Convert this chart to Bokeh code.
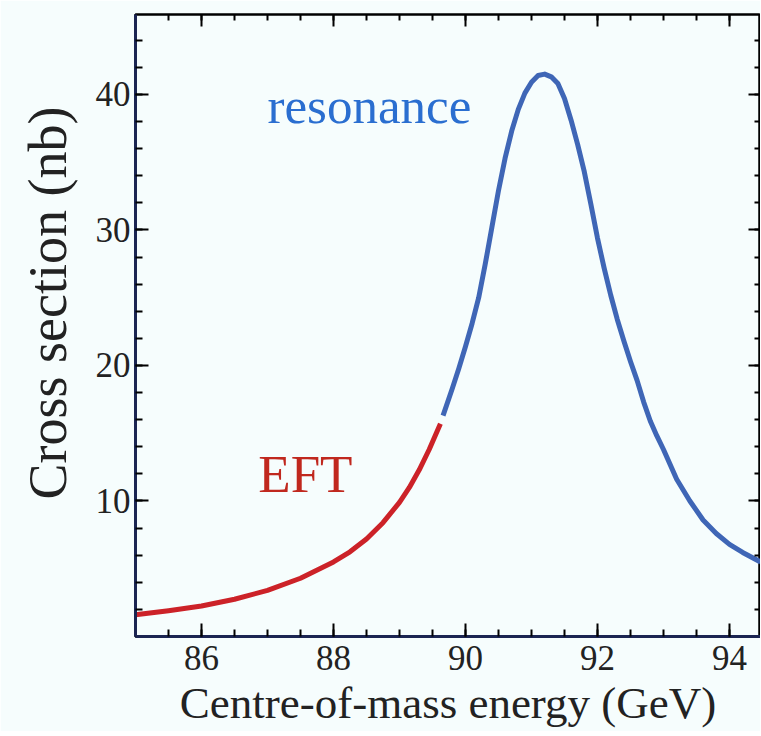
from bokeh.plotting import figure
from bokeh.models import FixedTicker, LinearAxis, Label, Range1d, Title
from bokeh.embed import file_html
from bokeh.resources import INLINE
import numpy as np

# ---- data ----
eft_energy = [85.0, 85.5, 86.0, 86.5, 87.0, 87.5, 88.0, 88.25, 88.5, 88.75,
              89.0, 89.15, 89.3, 89.45, 89.62]
eft_xsec = [1.6, 1.9, 2.25, 2.75, 3.4, 4.3, 5.5, 6.25, 7.2, 8.4,
            9.9, 11.0, 12.3, 13.8, 15.7]

res_energy = [89.66, 89.8, 89.9, 90.0, 90.1, 90.2, 90.3, 90.4, 90.5, 90.6,
              90.7, 90.8, 90.9, 91.0, 91.1, 91.2, 91.3, 91.4, 91.5, 91.6,
              91.7, 91.8, 91.9, 92.0, 92.1, 92.2, 92.3, 92.4, 92.5, 92.6,
              92.7, 92.8, 92.9, 93.0, 93.2, 93.4, 93.6, 93.8, 94.0, 94.2, 94.47]
res_xsec = [16.3, 18.3, 19.8, 21.4, 23.1, 25.0, 27.5, 30.2, 32.9, 35.3,
            37.3, 38.9, 40.1, 40.9, 41.4, 41.5, 41.3, 40.8, 39.7, 38.1,
            36.3, 34.3, 31.9, 29.4, 27.2, 25.2, 23.4, 21.8, 20.3, 18.9,
            17.3, 15.9, 14.8, 13.8, 11.6, 10.0, 8.6, 7.6, 6.8, 6.2, 5.5]

x_major = [86, 88, 90, 92, 94]
y_major = [10, 20, 30, 40]
x_title = "Centre-of-mass energy (GeV)"
y_title = "Cross section (nb)"

FONT = "Liberation Serif"
BG = "#f6fdfd"
BLUE = "#3f66b6"
RED = "#cc2228"
TXT = "#222222"

p = figure(frame_width=625, frame_height=622, output_backend="svg", toolbar_location=None,
           x_range=Range1d(85.0, 94.47), y_range=Range1d(0, 45.9),
           min_border_left=134, min_border_top=14, min_border_right=0, min_border_bottom=0)
p.background_fill_color = BG
p.border_fill_color = BG
p.grid.visible = False
p.outline_line_color = "black"
p.outline_line_width = 2.5

x_minor = list(np.arange(85.5, 94.5, 0.5))
y_minor = list(range(2, 46, 2))
xt = FixedTicker(ticks=x_major, minor_ticks=x_minor)
yt = FixedTicker(ticks=y_major, minor_ticks=y_minor)

for ax in (p.xaxis[0], p.yaxis[0]):
    ax.major_tick_in = 13
    ax.major_tick_out = 0
    ax.minor_tick_in = 7
    ax.minor_tick_out = 0
    ax.major_tick_line_width = 2
    ax.minor_tick_line_width = 2
    ax.major_tick_line_color = "black"
    ax.minor_tick_line_color = "black"
    ax.axis_line_color = "#1b2552"
    ax.axis_line_width = 3
    ax.major_label_text_font = FONT
    ax.major_label_text_font_size = "35px"
    ax.major_label_text_color = TXT

p.xaxis[0].ticker = xt
p.yaxis[0].ticker = yt
p.xaxis[0].major_label_standoff = 9
p.yaxis[0].major_label_standoff = 5

for loc, tk, ticks in (("above", xt, x_major), ("right", yt, y_major)):
    a = LinearAxis(ticker=tk, major_label_overrides={t: "" for t in ticks},
                   major_label_standoff=0,
                   major_tick_in=12, major_tick_out=0, minor_tick_in=6, minor_tick_out=0,
                   major_tick_line_width=2, minor_tick_line_width=2,
                   axis_line_color=None)
    p.add_layout(a, loc)

p.line(eft_energy, eft_xsec, line_color=RED, line_width=5, line_join="round")
p.line(res_energy, res_xsec, line_color=BLUE, line_width=5, line_join="round")

p.add_layout(Label(x=87.0, y=37.1, text="resonance", text_font=FONT,
                   text_font_size="51px", text_color="#2a6ed0"))
p.add_layout(Label(x=86.86, y=9.85, text="EFT", text_font=FONT,
                   text_font_size="53px", text_color="#c0281e"))

# axis titles
p.add_layout(Title(text=x_title, text_font=FONT, text_font_size="45px",
                   text_font_style="normal", text_color=TXT, align="center",
                   standoff=7, offset=3), "below")
p.add_layout(Title(text=y_title, text_font=FONT, text_font_size="54px",
                   text_font_style="normal", text_color=TXT, align="left",
                   standoff=30, offset=137), "left")

open("out.html", "w").write(file_html(p, INLINE))
